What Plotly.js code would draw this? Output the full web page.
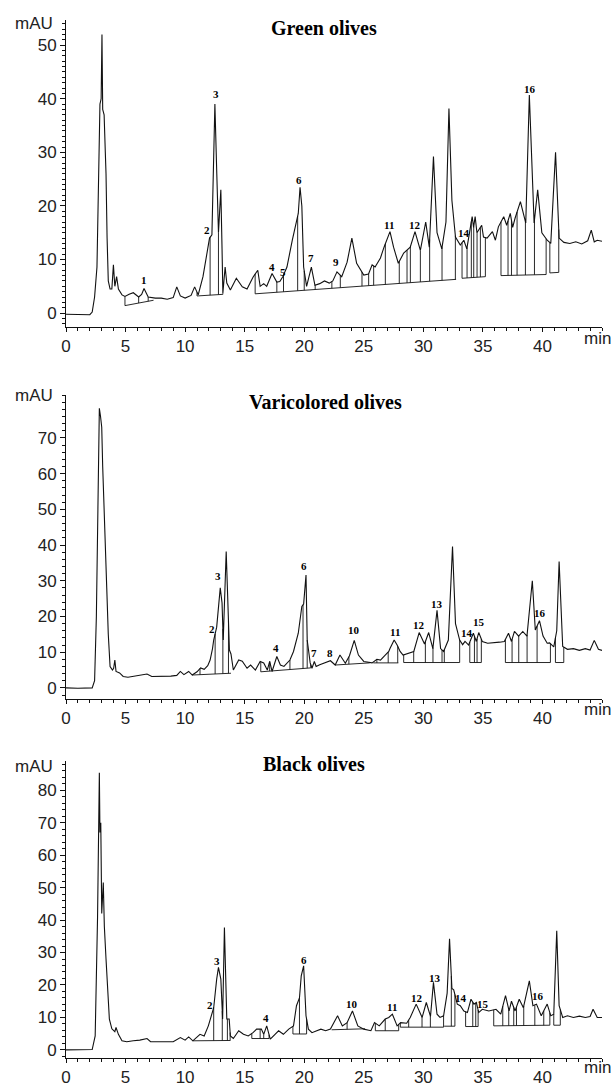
<!DOCTYPE html>
<html><head><meta charset="utf-8">
<script src="https://cdn.plot.ly/plotly-3.0.1.min.js"></script>
<style>html,body{margin:0;padding:0;background:#fff}#chart{width:616px;height:1089px}</style>
</head><body><div id="chart"></div>
<script>
// ---------- Green olives ----------
const greenT = [0,1,2,2.2,2.4,2.6,2.75,2.85,2.95,3.02,3.08,3.2,3.3,3.36,3.45,3.55,3.7,3.85,3.98,4.1,4.25,4.4,4.7,4.95,5.3,5.65,6.1,6.35,6.55,6.9,7.5,8,8.5,9,9.3,9.6,10,10.5,10.8,11.1,11.5,11.8,12.05,12.25,12.4,12.5,12.66,12.8,12.9,13,13.1,13.17,13.36,13.5,13.8,14.3,14.8,15.2,15.7,16.1,16.3,16.6,16.85,17.3,17.7,17.95,18.2,18.55,19,19.25,19.5,19.65,19.8,19.95,20.2,20.6,20.9,21.3,21.7,22.1,22.4,22.75,23.15,23.6,24,24.4,25,25.4,25.7,25.95,26.4,26.7,27.2,27.5,27.9,28.35,28.6,28.9,29.3,29.75,30.2,30.5,30.85,31.15,31.55,31.9,32.15,32.4,32.7,33.1,33.4,33.65,34.1,34.22,34.35,34.5,34.9,35.05,35.35,35.8,36.05,36.3,36.75,37.0,37.3,37.5,37.7,38.15,38.6,38.9,39.3,39.6,39.95,40.4,40.7,41.1,41.4,41.8,42.3,42.8,43.3,43.8,44.1,44.35,44.6,45];
const greenV = [-0.2,-0.3,-0.3,0.2,3,8.6,25,39,40,52,38,37,30,26,14,6,4.5,4.5,9,5,6.8,4.5,3.4,3.1,3.5,3.8,3,3.5,4.6,3,2.8,2.8,2.6,2.9,4.9,3.2,2.8,3.3,4.9,3.4,6.8,11,14,14.6,30,39,26,15,19,23,12,3.7,8.6,5.6,4.3,6.5,4.9,4.5,6.7,8,5,5.5,5,7.4,5.8,5.9,6.8,8.6,13.6,16,18.6,23.5,20,8.6,5,8.6,5.2,5.5,6,5.6,6,7.7,6.8,9.5,14,9.3,7.1,7.3,9,8.6,10.3,12.3,15.2,12.3,9.3,11.2,11.7,12.3,15.2,11.7,17,12.3,29.2,15,12,17,38.2,21,14.2,12.7,13.6,12,18,16,18,15,16.4,14.2,14,15.2,13.6,16.1,18,16.4,18.6,16,17.7,20.8,16.8,40.7,16.8,23,15,13.6,13,30,14,13.2,13,13.3,12.9,13.5,15.5,13.3,13.6,13.4];
const greenBase = [[4.95,1.4,7.35,2.4],[11.0,3.2,13.17,3.5],[15.88,3.6,32.75,6.3],[33.25,6.5,35.21,6.8],[36.52,7.0,40.31,7.2],[40.62,7.5,41.37,7.6]];
const greenDrops = [4.95,6.1,6.9,11.0,12.1,12.8,13.17,15.88,17.7,18.26,19.45,20.0,20.92,22.32,23.03,24.85,25.41,25.83,26.81,27.98,28.63,28.91,29.75,30.53,31.57,32.69,33.25,33.67,34.03,34.23,34.51,34.79,35.21,36.52,37.11,37.4,37.87,38.57,39.33,40.31,40.62,41.37];
const greenLabels = ['1','2','3','4','5','6','7','9','11','12','14','16'];
const greenLabelT = [6.55,11.8,12.6,17.3,18.2,19.6,20.6,22.7,27.1,29.3,33.4,38.95];
const greenLabelV = [6.2,15.5,40.8,8.6,7.7,24.8,10.2,9.5,16.5,16.4,14.9,41.9];
const greenYTicks = [0,10,20,30,40,50];

// ---------- Varicolored olives ----------
const varT = [0,1,2.2,2.4,2.55,2.7,2.8,2.9,3.0,3.08,3.15,3.22,3.3,3.42,3.55,3.7,3.9,4.0,4.1,4.2,4.5,4.8,5.2,5.7,6.2,6.8,7.2,8.0,8.8,9.3,9.6,9.9,10.3,10.6,11.0,11.3,11.6,11.9,12.1,12.3,12.4,12.65,12.95,13.1,13.2,13.45,13.6,13.72,13.85,14.05,14.5,14.8,15.2,15.5,15.9,16.3,16.6,16.9,17.1,17.3,17.7,18.0,18.3,18.8,19.1,19.5,19.8,19.95,20.15,20.25,20.5,20.65,20.85,21.0,21.3,21.8,22.2,22.6,23.0,23.45,23.8,24.2,24.55,25.0,25.7,26.1,26.4,26.8,27.1,27.2,27.55,27.8,28.05,28.3,28.6,29.2,29.65,30.1,30.45,30.8,31.15,31.45,31.7,32.1,32.45,32.7,33.05,33.3,33.5,33.8,34.2,34.45,34.65,34.95,35.4,35.9,36.4,36.8,37.15,37.4,37.65,38.0,38.35,38.7,39.15,39.4,39.75,40.05,40.4,40.6,40.95,41.2,41.4,41.7,42.1,42.6,43.1,43.6,44.0,44.35,44.7,45];
const varV = [0,-0.1,0,2,20,60,78.3,76,73,62,54,45,35,28,15,6,5,5.5,7.8,4.6,4.2,3.2,3.0,3.3,3.4,3.9,3.2,3.2,3.3,3.5,4.6,3.7,4.6,3.6,4.5,5.6,5.2,6.2,7.8,11,13.4,17,28,23.8,13.4,38.2,22.8,10.6,9.5,5,7.8,7.5,5.5,6.4,5,7.4,7,5,7.4,4.6,8.8,6.4,6,7.8,10.2,15.3,22.8,23.5,31.6,13.4,7,5.5,7.4,6.0,6.5,7,7.6,6.4,9.2,6.9,9,13.3,9.2,7.4,7,8,7.8,9.2,10.2,11,13.4,12,10.2,9.2,9.6,10.2,15.5,12.3,15.5,11,21.7,11,10.2,13.4,39.6,18,13.4,12.1,13,12,15.3,13,15.5,13,12.5,12.6,12.8,13,15.3,13,15.8,14.5,15.8,14.5,30,16.2,18.8,14.5,12.5,12.6,11.5,16,35.4,11.6,10.8,11.0,10.5,11.0,10.6,13.3,10.8,10.5];
const varBase = [[10.6,3.6,13.85,4.1],[16.35,4.5,20.55,5.6],[22.6,6.4,25.5,7.0],[25.8,7.0,27.9,7.0],[28.35,7.1,33.05,7.1],[33.9,7.1,34.87,7.1],[36.89,7.1,40.67,7.1],[41.09,7.1,41.79,7.1]];
const varDrops = [11.25,12.52,13.17,13.64,16.35,17.1,18.8,19.9,20.25,20.55,22.6,23.75,26.1,27.05,27.85,28.35,29.19,30.17,30.81,31.57,31.76,33.05,33.9,34.29,34.51,34.87,36.89,37.45,38.01,38.71,39.55,40.67,41.09,41.79];
const varLabels = ['2','3','4','6','7','8','10','11','12','13','14','15','16'];
const varLabelT = [12.25,12.8,17.65,20.0,20.85,22.2,24.2,27.6,29.65,31.15,33.65,34.7,39.8];
const varLabelV = [16.4,31.4,11.1,34.2,9.7,9.9,16.2,15.7,17.6,23.4,15.3,18.4,20.9];
const varYTicks = [0,10,20,30,40,50,60,70];

// ---------- Black olives ----------
const blackT = [0,1,2.2,2.45,2.65,2.8,2.85,2.92,3.0,3.13,3.22,3.36,3.47,3.64,3.85,4.1,4.2,4.4,4.7,5.1,5.65,6.2,6.8,7.1,7.9,9.0,9.6,10.0,10.3,10.65,11.25,11.6,11.95,12.4,12.65,12.8,13.0,13.15,13.3,13.4,13.5,13.7,13.8,14.05,14.5,14.9,15.3,15.7,16.0,16.4,16.6,16.85,17.15,17.55,17.85,18.25,18.7,19.1,19.35,19.6,19.75,19.95,20.15,20.35,20.65,21.0,21.4,21.8,22.2,22.8,23.2,23.6,24.05,24.5,25.0,25.6,25.9,26.3,26.8,27.1,27.4,27.8,28.1,28.6,28.9,29.4,29.9,30.25,30.6,30.85,31.15,31.4,31.7,32.0,32.2,32.4,32.55,32.85,33.1,33.4,33.7,34.0,34.25,34.45,34.65,34.95,35.5,36.1,36.5,36.9,37.2,37.4,37.7,38.05,38.4,38.9,39.2,39.5,39.9,40.4,40.7,40.95,41.2,41.4,41.7,42.1,42.6,43.1,43.6,44.0,44.25,44.6,45];
const blackV = [0,0,0.1,4.3,41,85.4,67,70,42,51.6,38,28,19.7,9.5,6.5,5.6,6.9,4.8,2.8,2.5,2.8,3.0,3.5,2.5,2.5,2.5,3.8,3.0,4.0,2.8,4.8,4.3,7.4,13,21.8,25.4,21.8,9.5,37.7,26,9.5,9.5,4.3,3.5,5.9,4.8,4.3,5.3,6.4,6.4,4.8,7.4,3.3,4.8,5.9,4.8,6.4,7.4,13.6,16,22.8,25.9,10.5,6.4,5.3,5.8,6.4,5.9,6.4,10.5,7.4,8.4,12,7.4,6.4,5.9,8.4,7.4,9.5,10,11,7.4,8.4,8.2,10,14.1,10,14.6,10.3,20.8,11,10,10.5,17.5,34.2,18.9,18.5,14.1,13.6,12,11.5,15.6,14.1,14.6,11.5,12.5,12,12.5,11,16.7,12,15,12,15.6,13,21.3,13.6,14.1,10.5,14.1,10.5,11,36.7,13.6,10,10.5,10.0,10.4,10.0,10.3,12.5,10,10];
const blackBase = [[10.65,2.8,13.8,2.9],[15.6,3.5,17.05,3.5],[19.05,4.9,20.2,4.9],[22.3,6.2,25.1,6.5],[25.97,5.9,27.93,5.9],[28.07,7.0,31.7,7.0],[31.75,7.3,32.65,7.3],[33.55,7.2,34.6,7.2],[35.91,7.4,40.62,7.6],[40.95,7.6,41.5,7.6]];
const blackDrops = [12.4,13.12,13.55,13.78,15.6,16.3,16.6,17.05,19.05,19.6,20.2,23.6,25.97,26.8,27.93,28.07,28.77,29.89,30.59,31.7,32.35,32.65,33.55,34.15,34.4,34.6,35.91,36.67,37.17,37.59,37.82,38.43,39.36,40.11,40.62,40.95,41.5];
const blackLabels = ['2','3','4','6','10','11','12','13','14','15','16'];
const blackLabelT = [12.1,12.7,16.8,19.95,24.05,27.4,29.45,30.95,33.15,35.05,39.6];
const blackLabelV = [13.8,27.5,9.7,27.8,14.1,13.1,16.1,22.3,16.1,14.1,16.7];
const blackYTicks = [0,10,20,30,40,50,60,70,80];

const xTicks = [0,5,10,15,20,25,30,35,40];

// ---------- helpers ----------
function interp(ts, vs, t) {
  for (let i = 1; i < ts.length; i++) {
    if (t <= ts[i]) {
      const f = (t - ts[i-1]) / (ts[i] - ts[i-1]);
      return vs[i-1] + f * (vs[i] - vs[i-1]);
    }
  }
  return vs[vs.length - 1];
}
function integration(ts, vs, base, drops) {
  const x = [], y = [];
  base.forEach(s => { x.push(s[0], s[2], null); y.push(s[1], s[3], null); });
  drops.forEach(t => {
    const s = base.find(b => t >= b[0] - 0.06 && t <= b[2] + 0.06);
    if (!s) return;
    const b = s[1] + (s[3] - s[1]) * (t - s[0]) / (s[2] - s[0]);
    x.push(t, t, null); y.push(b, interp(ts, vs, t), null);
  });
  return {x, y};
}

const LINE = '#111';
const SANS = 'Liberation Sans, Arial, Helvetica, sans-serif';
const SERIF = 'Liberation Serif, Times New Roman, serif';
const panels = [
  {t: greenT, v: greenV, base: greenBase, drops: greenDrops, lab: greenLabels, lt: greenLabelT, lv: greenLabelV, xa: 'x', ya: 'y'},
  {t: varT, v: varV, base: varBase, drops: varDrops, lab: varLabels, lt: varLabelT, lv: varLabelV, xa: 'x2', ya: 'y2'},
  {t: blackT, v: blackV, base: blackBase, drops: blackDrops, lab: blackLabels, lt: blackLabelT, lv: blackLabelV, xa: 'x3', ya: 'y3'}
];

const data = [];
const annotations = [];
panels.forEach(p => {
  data.push({x: p.t, y: p.v, type: 'scatter', mode: 'lines', xaxis: p.xa, yaxis: p.ya,
    line: {color: LINE, width: 1.1}, hoverinfo: 'skip', showlegend: false});
  const ig = integration(p.t, p.v, p.base, p.drops);
  data.push({x: ig.x, y: ig.y, type: 'scatter', mode: 'lines', xaxis: p.xa, yaxis: p.ya,
    line: {color: LINE, width: 0.9}, hoverinfo: 'skip', showlegend: false, connectgaps: false});
  p.lab.forEach((l, i) => annotations.push({
    text: '<b>' + l + '</b>', x: p.lt[i], y: p.lv[i], xref: p.xa, yref: p.ya,
    showarrow: false, xanchor: 'center', yanchor: 'middle',
    font: {family: SERIF, size: 11, color: '#000'}
  }));
});

function xAxis(anchor) {
  return {domain: [0, 1], range: [0, 45], anchor: anchor, showline: true, linecolor: LINE, linewidth: 1,
    ticks: 'outside', ticklen: 4, tickwidth: 1, tickcolor: LINE, tickmode: 'array', tickvals: xTicks,
    ticktext: xTicks.map(String),
    minor: {tickmode: 'linear', tick0: 0, dtick: 1, ticks: 'outside', ticklen: 3, tickwidth: 1, tickcolor: LINE},
    showgrid: false, zeroline: false, ticklabelstandoff: 0,
    tickfont: {family: SANS, size: 17, color: '#222'}, fixedrange: true};
}
function yAxis(anchor, dom, rng, vals, minorStep) {
  return {domain: dom, range: rng, anchor: anchor, showline: true, linecolor: LINE, linewidth: 1,
    ticks: 'outside', ticklen: 5, tickwidth: 1, tickcolor: LINE, tickmode: 'array', tickvals: vals,
    ticktext: vals.map(String),
    minor: {tickmode: 'linear', dtick: minorStep, tick0: 0, ticks: 'outside', ticklen: 3, tickwidth: 1, tickcolor: LINE},
    showgrid: false, zeroline: false,
    tickfont: {family: SANS, size: 17, color: '#222'}, fixedrange: true};
}

// axis-side texts
const sideTexts = [
  {text: 'mAU', x: -0.0597, y: 0.9971}, {text: 'mAU', x: -0.0597, y: 0.6387}, {text: 'mAU', x: -0.0597, y: 0.2813},
  {text: 'min', x: 0.9907, y: 0.6936}, {text: 'min', x: 0.9907, y: 0.3362}, {text: 'min', x: 0.9907, y: -0.0096}
];
sideTexts.forEach(s => annotations.push({text: s.text, x: s.x, y: s.y, xref: 'paper', yref: 'paper',
  showarrow: false, xanchor: 'center', yanchor: 'middle', font: {family: SANS, size: 17, color: '#222'}}));
const titles = [
  {text: 'Green olives', x: 0.4813, y: 0.9923},
  {text: 'Varicolored olives', x: 0.485, y: 0.6320},
  {text: 'Black olives', x: 0.4627, y: 0.2832}
];
titles.forEach(s => annotations.push({text: '<b>' + s.text + '</b>', x: s.x, y: s.y, xref: 'paper', yref: 'paper',
  showarrow: false, xanchor: 'center', yanchor: 'middle', font: {family: SERIF, size: 20, color: '#000'}}));

const layout = {
  width: 616, height: 1089,
  margin: {l: 66, r: 14, t: 20, b: 31},
  paper_bgcolor: '#fff', plot_bgcolor: '#fff',
  showlegend: false,
  xaxis: xAxis('y'), yaxis: yAxis('x', [0.7042, 1], [-2.6, 54.7], greenYTicks, 1),
  xaxis2: xAxis('y2'), yaxis2: yAxis('x2', [0.3459, 0.6387], [-3.1, 82], varYTicks, 2),
  xaxis3: xAxis('y3'), yaxis3: yAxis('x3', [0, 0.2861], [-2.5, 89], blackYTicks, 2),
  annotations: annotations
};
Plotly.newPlot('chart', data, layout, {displayModeBar: false, staticPlot: true});
</script>
</body></html>
